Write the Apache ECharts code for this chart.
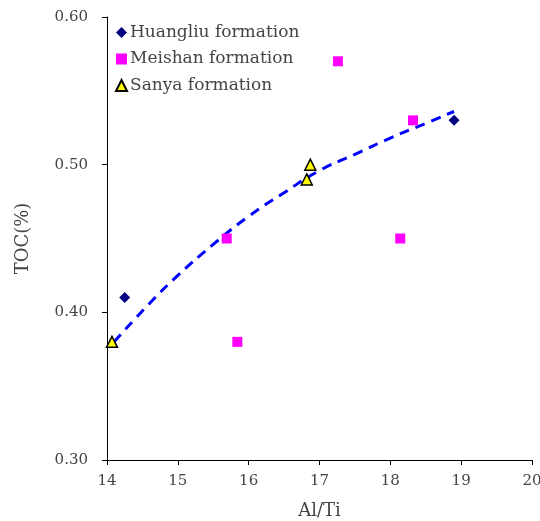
<!DOCTYPE html>
<html><head><meta charset="utf-8">
<script src="https://cdn.jsdelivr.net/npm/echarts@6/dist/echarts.min.js"></script>
<style>html,body{margin:0;padding:0;background:#fff}#c{width:540px;height:521px}</style>
</head><body><div id="c"></div>
<script>
const huangliuX = [14.25, 18.90];
const huangliuY = [0.41, 0.53];
const meishanX = [15.69, 15.84, 17.26, 18.14, 18.32];
const meishanY = [0.45, 0.38, 0.57, 0.45, 0.53];
const sanyaX = [14.07, 16.82, 16.87];
const sanyaY = [0.38, 0.49, 0.50];
const trendX = [14.1, 14.6, 15.0, 15.5, 16.0, 16.5, 17.0, 17.5, 18.0, 18.5, 18.9];
const trendY = [0.380, 0.406, 0.425, 0.446, 0.465, 0.481, 0.496, 0.507, 0.518, 0.528, 0.536];
const xTicks = [14, 15, 16, 17, 18, 19, 20];
const yTicks = [0.30, 0.40, 0.50, 0.60];

const zip = (a, b) => a.map((v, i) => [v, b[i]]);
const FONT = 'DejaVu Serif';
const TXT = '#444';
const chart = echarts.init(document.getElementById('c'), null, {renderer: 'canvas'});
chart.setOption({
  animation: false,
  textStyle: {fontFamily: FONT},
  grid: {left: 107, right: 8, top: 17, bottom: 61, containLabel: false, outerBoundsMode: 'none'},
  legend: {
    orient: 'vertical', left: 110, top: 19, itemGap: 9.5, itemWidth: 11, itemHeight: 11,
    textStyle: {fontFamily: FONT, fontSize: 17, color: TXT, padding: [0, 0, 0, -2]},
    data: ['Huangliu formation', 'Meishan formation', 'Sanya formation']
  },
  xAxis: {
    type: 'value', min: xTicks[0], max: xTicks[xTicks.length - 1], interval: 1,
    name: 'Al/Ti', nameLocation: 'middle', nameGap: 42,
    nameTextStyle: {fontFamily: FONT, fontSize: 18, color: TXT},
    axisLine: {lineStyle: {color: '#000', width: 1}},
    axisTick: {show: true, inside: false, length: 5, lineStyle: {color: '#000'}},
    axisLabel: {fontFamily: FONT, fontSize: 15, color: TXT, margin: 14},
    splitLine: {show: false}
  },
  yAxis: {
    type: 'value', min: yTicks[0], max: yTicks[yTicks.length - 1], interval: 0.1,
    name: 'TOC(%)', nameLocation: 'middle', nameGap: 75, nameRotate: 90,
    nameTextStyle: {fontFamily: FONT, fontSize: 18, color: TXT},
    axisLine: {show: true, lineStyle: {color: '#000', width: 1}},
    axisTick: {show: true, inside: false, length: 5, lineStyle: {color: '#000'}},
    axisLabel: {fontFamily: FONT, fontSize: 15, color: TXT, margin: 19, formatter: v => v.toFixed(2)},
    splitLine: {show: false}
  },
  series: [
    {
      name: 'trend', type: 'line', data: zip(trendX, trendY), smooth: true, showSymbol: false,
      lineStyle: {color: '#0000ff', width: 3, type: [10, 7]}, z: 1, silent: true
    },
    {
      name: 'Huangliu formation', type: 'scatter', data: zip(huangliuX, huangliuY),
      symbol: 'diamond', symbolSize: 11, itemStyle: {color: '#000080', opacity: 1}, z: 3
    },
    {
      name: 'Meishan formation', type: 'scatter', data: zip(meishanX, meishanY),
      symbol: 'rect', symbolSize: 10, itemStyle: {color: '#ff00ff', opacity: 1}, z: 3
    },
    {
      name: 'Sanya formation', type: 'scatter', data: zip(sanyaX, sanyaY),
      symbol: 'triangle', symbolSize: 11, itemStyle: {color: '#ffff00', borderColor: '#000', borderWidth: 1.5, opacity: 1}, z: 3
    }
  ]
});
</script></body></html>
